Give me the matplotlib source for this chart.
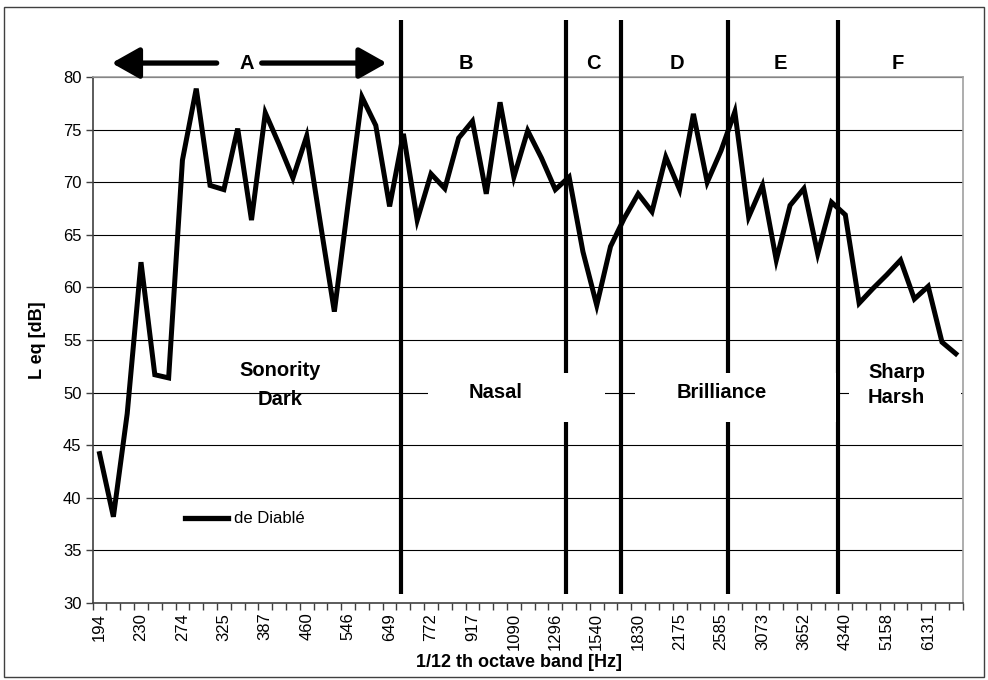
import matplotlib
matplotlib.use("Agg")
import matplotlib.pyplot as plt
from matplotlib.patches import Rectangle

plt.rcParams['font.family'] = ['Liberation Sans', 'DejaVu Sans']

# ---- data ----
band_labels = ['194', '230', '274', '325', '387', '460', '546', '649', '772', '917',
               '1090', '1296', '1540', '1830', '2175', '2585', '3073', '3652', '4340',
               '5158', '6131']
leq_de_diable = [44.2, 38.2, 48.0, 62.4, 51.7, 51.4, 72.1, 78.9, 69.7, 69.3,
                 75.1, 66.4, 76.6, 73.6, 70.4, 74.4, 66.0, 57.7, 68.0, 78.1,
                 75.4, 67.7, 74.6, 66.4, 70.8, 69.4, 74.2, 75.8, 68.9, 77.6,
                 70.5, 74.9, 72.3, 69.3, 70.5, 63.4, 58.3, 63.9, 66.6, 68.9,
                 67.2, 72.4, 69.3, 76.5, 70.0, 73.0, 76.7, 66.7, 69.7, 62.6,
                 67.8, 69.4, 63.2, 68.1, 66.9, 58.5, 59.9, 61.2, 62.6, 58.9,
                 60.1, 54.8, 53.7]
series_name = 'de Diablé'
region_letters = ['B', 'C', 'D', 'E', 'F']
region_bounds = [21.82, 33.77, 37.75, 45.54, 53.5]

n = len(leq_de_diable)
x = list(range(n))

fig = plt.figure(figsize=(9.88, 6.8), dpi=100)
ax = fig.add_axes([0.0938, 0.1132, 0.8806, 0.7735])

# outer frame
fig.patches.append(Rectangle((0.004, 0.005), 0.992, 0.985, transform=fig.transFigure,
                             fill=False, edgecolor='#404040', lw=1.0))

ax.set_xlim(-0.5, n - 0.5)
ax.set_ylim(30, 80)

# grid
for yv in range(35, 81, 5):
    ax.axhline(yv, color='black', lw=0.8, zorder=0.5)

ax.plot(x, leq_de_diable, color='black', lw=3.6, zorder=2, label=series_name,
        solid_joinstyle='miter')

# region dividers
for xb in region_bounds:
    ax.plot([xb, xb], [30.9, 85.4], color='black', lw=3.0, zorder=3,
            clip_on=False, solid_capstyle='butt')

# white boxes behind region labels
for (x0, x1, y0, y1) in [(23.8, 36.6, 47.2, 51.9), (38.8, 53.3, 47.2, 51.9),
                         (54.3, 62.4, 48.0, 50.5)]:
    ax.add_patch(Rectangle((x0, y0), x1 - x0, y1 - y0, facecolor='white',
                           edgecolor='none', zorder=4))

tfont = dict(fontsize=14.5, fontweight='bold', ha='center', va='center', zorder=5)
ax.text(13.08, 52.08, 'Sonority', **tfont)
ax.text(13.08, 49.36, 'Dark', **tfont)
ax.text(28.7, 50.06, 'Nasal', **tfont)
ax.text(45.07, 50.06, 'Brilliance', **tfont)
ax.text(57.7, 51.96, 'Sharp', **tfont)
ax.text(57.7, 49.5, 'Harsh', **tfont)

# top letters and arrow for A
ytop = 81.33
ax.text(10.65, ytop, 'A', clip_on=False, **tfont)
for xl, xc in zip(region_letters, [26.53, 35.73, 41.82, 49.28, 57.82]):
    ax.text(xc, ytop, xl, clip_on=False, **tfont)
ap = dict(arrowstyle='-|>,head_length=0.8,head_width=0.45', mutation_scale=21,
          lw=3.8, color='black', shrinkA=0, shrinkB=0)
ax.annotate('', xy=(0.88, ytop), xytext=(8.48, ytop), arrowprops=ap,
            annotation_clip=False)
ax.annotate('', xy=(20.79, ytop), xytext=(11.74, ytop), arrowprops=ap,
            annotation_clip=False)

# ticks
ax.set_xticks(list(range(0, n, 3)))
ax.set_xticklabels(band_labels, rotation=90, fontsize=12)
ax.set_xticks([i - 0.5 for i in range(n + 1)], minor=True)
ax.tick_params(axis='x', which='major', length=0, pad=7)
ax.tick_params(axis='x', which='minor', length=5, width=1, color='#404040')
ax.set_yticks(list(range(30, 81, 5)))
ax.tick_params(axis='y', length=5, width=1, color='#404040', labelsize=12, pad=3)

for s in ['left', 'bottom']:
    ax.spines[s].set_color('#404040')
    ax.spines[s].set_linewidth(1.2)
for s in ['top', 'right']:
    ax.spines[s].set_color('#a0a0a0')
    ax.spines[s].set_linewidth(1.2)

ax.set_ylabel('L eq [dB]', fontsize=13, fontweight='bold')
ax.yaxis.label.set_va('center')
ax.yaxis.set_label_coords(-0.063, 0.5)
ax.set_xlabel('1/12 th octave band [Hz]', fontsize=13, fontweight='bold')
ax.xaxis.label.set_va('center')
ax.xaxis.set_label_coords(0.49, -0.114)

leg = ax.legend(loc='center left', bbox_to_anchor=(0.106, 0.16), frameon=False,
                handlelength=2.6, handletextpad=0.35, borderpad=0, borderaxespad=0,
                fontsize=12)
leg.get_lines()[0].set_linewidth(3.8)

fig.savefig('out.png', dpi=100)
